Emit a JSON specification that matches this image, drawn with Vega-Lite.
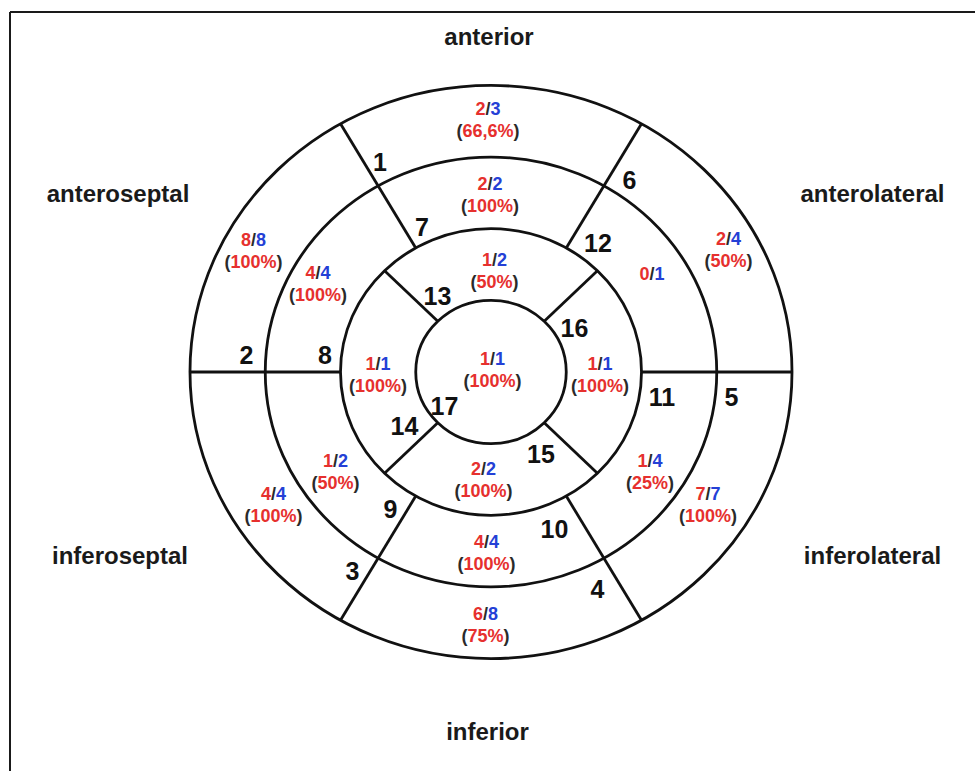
{
  "$schema": "https://vega.github.io/schema/vega-lite/v6.json",
  "width": 975,
  "height": 771,
  "autosize": "none",
  "padding": 0,
  "background": "white",
  "config": {"view": {"stroke": null}},
  "datasets": {
    "rings": [
      {"x": 0, "y": 0, "r": 75.25},
      {"x": 0, "y": 0, "r": 150.5},
      {"x": 0, "y": 0, "r": 225.75},
      {"x": 0, "y": 0, "r": 301}
    ],
    "dividers": [
      {"x": 150.5, "y": 0, "x2": 301, "y2": 0},
      {"x": 75.25, "y": 130.34, "x2": 150.5, "y2": 260.67},
      {"x": -75.25, "y": 130.34, "x2": -150.5, "y2": 260.67},
      {"x": -150.5, "y": 0, "x2": -301, "y2": 0},
      {"x": -75.25, "y": -130.34, "x2": -150.5, "y2": -260.67},
      {"x": 75.25, "y": -130.34, "x2": 150.5, "y2": -260.67},
      {"x": 53.21, "y": 53.21, "x2": 106.42, "y2": 106.42},
      {"x": -53.21, "y": 53.21, "x2": -106.42, "y2": 106.42},
      {"x": -53.21, "y": -53.21, "x2": -106.42, "y2": -106.42},
      {"x": 53.21, "y": -53.21, "x2": 106.42, "y2": -106.42}
    ],
    "frame": [
      {"x": -481, "y": 378.2, "x2": -481, "y2": -419.12},
      {"x": -481, "y": 378.2, "x2": 484, "y2": 378.2}
    ],
    "walls": [
      {"name": "anterior", "x": -2, "y": 343.5},
      {"name": "anteroseptal", "x": -373, "y": 178.6},
      {"name": "anterolateral", "x": 381.5, "y": 178.6},
      {"name": "inferoseptal", "x": -371, "y": -201.7},
      {"name": "inferolateral", "x": 381.5, "y": -201.7},
      {"name": "inferior", "x": -3.5, "y": -386.6}
    ],
    "numbers": [
      {"seg": "1", "x": -111, "y": 211.1},
      {"seg": "2", "x": -244.5, "y": 8.4},
      {"seg": "3", "x": -138.5, "y": -218.5},
      {"seg": "4", "x": 106.5, "y": -237.4},
      {"seg": "5", "x": 240.5, "y": -35.7},
      {"seg": "6", "x": 138.5, "y": 192.2},
      {"seg": "7", "x": -69, "y": 142.9},
      {"seg": "8", "x": -166, "y": 8.4},
      {"seg": "9", "x": -100.5, "y": -153.4},
      {"seg": "10", "x": 63.5, "y": -174.4},
      {"seg": "11", "x": 171, "y": -35.7},
      {"seg": "12", "x": 107, "y": 126.1},
      {"seg": "13", "x": -53.5, "y": 70.4},
      {"seg": "14", "x": -86.5, "y": -66.2},
      {"seg": "15", "x": 50, "y": -95.6},
      {"seg": "16", "x": 83.5, "y": 36.8},
      {"seg": "17", "x": -46.5, "y": -45.2}
    ],
    "segments": [
      {"seg": 1, "num": "2", "den": "3", "pct": "66,6%", "x": -3, "y": 270.0},
      {"seg": 2, "num": "8", "den": "8", "pct": "100%", "x": -237.5, "y": 132.4},
      {"seg": 3, "num": "4", "den": "4", "pct": "100%", "x": -217.5, "y": -134.5},
      {"seg": 4, "num": "6", "den": "8", "pct": "75%", "x": -5.5, "y": -260.5},
      {"seg": 5, "num": "7", "den": "7", "pct": "100%", "x": 217, "y": -134.5},
      {"seg": 6, "num": "2", "den": "4", "pct": "50%", "x": 237.5, "y": 133.4},
      {"seg": 7, "num": "2", "den": "2", "pct": "100%", "x": -1, "y": 191.2},
      {"seg": 8, "num": "4", "den": "4", "pct": "100%", "x": -173, "y": 97.7},
      {"seg": 9, "num": "1", "den": "2", "pct": "50%", "x": -155.5, "y": -99.8},
      {"seg": 10, "num": "4", "den": "4", "pct": "100%", "x": -4.5, "y": -184.9},
      {"seg": 11, "num": "1", "den": "4", "pct": "25%", "x": 159, "y": -99.8},
      {"seg": 12, "num": "0", "den": "1", "x": 161, "y": 96.6},
      {"seg": 13, "num": "1", "den": "2", "pct": "50%", "x": 3.5, "y": 111.3},
      {"seg": 14, "num": "1", "den": "1", "pct": "100%", "x": -113, "y": 2.6},
      {"seg": 15, "num": "2", "den": "2", "pct": "100%", "x": -7.5, "y": -108.2},
      {"seg": 16, "num": "1", "den": "1", "pct": "100%", "x": 109, "y": 1.6},
      {"seg": 17, "num": "1", "den": "1", "pct": "100%", "x": 1.5, "y": 7.4}
    ]
  },
  "encoding": {
    "x": {"field": "x", "type": "quantitative", "axis": null, "scale": {"domain": [-491, 484], "nice": false, "zero": false}},
    "y": {"field": "y", "type": "quantitative", "axis": null, "scale": {"domain": [-419.12, 390.76], "nice": false, "zero": false}}
  },
  "layer": [
    {
      "data": {"name": "frame"},
      "mark": {"type": "rule", "color": "#1a1a1a", "strokeWidth": 2},
      "encoding": {"x2": {"field": "x2"}, "y2": {"field": "y2"}}
    },
    {
      "data": {"name": "rings"},
      "mark": {"type": "point", "shape": "M-1,0A1,0.952,0,1,0,1,0A1,0.952,0,1,0,-1,0Z", "filled": false, "color": "#111111", "strokeWidth": 2.8, "opacity": 1},
      "encoding": {
        "size": {"field": "r", "type": "quantitative", "legend": null, "scale": {"type": "pow", "exponent": 2, "domain": [0, 301], "range": [0, 362404]}}
      }
    },
    {
      "data": {"name": "dividers"},
      "mark": {"type": "rule", "color": "#111111", "strokeWidth": 2.8},
      "encoding": {"x2": {"field": "x2"}, "y2": {"field": "y2"}}
    },
    {
      "data": {"name": "walls"},
      "mark": {"type": "text", "font": "Liberation Sans", "fontWeight": "bold", "fontSize": 24, "color": "#1a1a1a", "align": "center", "baseline": "alphabetic"},
      "encoding": {"text": {"field": "name", "type": "nominal"}}
    },
    {
      "data": {"name": "numbers"},
      "mark": {"type": "text", "font": "Liberation Sans", "fontWeight": "bold", "fontSize": 25, "color": "#111111", "align": "center", "baseline": "alphabetic"},
      "encoding": {"text": {"field": "seg", "type": "nominal"}}
    },
    {
      "data": {"name": "segments"},
      "mark": {"type": "text", "font": "Liberation Sans", "fontWeight": "bold", "fontSize": 18, "color": "#e6302e", "align": "right", "dx": -2.5, "baseline": "alphabetic"},
      "encoding": {"text": {"field": "num", "type": "nominal"}}
    },
    {
      "data": {"name": "segments"},
      "mark": {"type": "text", "font": "Liberation Sans", "fontWeight": "bold", "fontSize": 18, "color": "#2a2a2a", "align": "center", "baseline": "alphabetic", "text": "/"}
    },
    {
      "data": {"name": "segments"},
      "mark": {"type": "text", "font": "Liberation Sans", "fontWeight": "bold", "fontSize": 18, "color": "#2440d6", "align": "left", "dx": 2.5, "baseline": "alphabetic"},
      "encoding": {"text": {"field": "den", "type": "nominal"}}
    },
    {
      "data": {"name": "segments"},
      "transform": [{"filter": "isValid(datum.pct)"}],
      "mark": {"type": "text", "font": "Liberation Sans", "fontWeight": "bold", "fontSize": 18, "color": "#e6302e", "align": "center", "dy": 22, "baseline": "alphabetic"},
      "encoding": {"text": {"field": "pct", "type": "nominal"}}
    },
    {
      "data": {"name": "segments"},
      "transform": [{"filter": "datum.pct == '100%'"}],
      "mark": {"type": "text", "font": "Liberation Sans", "fontWeight": "bold", "fontSize": 18, "color": "#2a2a2a", "align": "right", "dx": -23, "dy": 22, "baseline": "alphabetic", "text": "("}
    },
    {
      "data": {"name": "segments"},
      "transform": [{"filter": "datum.pct == '100%'"}],
      "mark": {"type": "text", "font": "Liberation Sans", "fontWeight": "bold", "fontSize": 18, "color": "#2a2a2a", "align": "left", "dx": 23, "dy": 22, "baseline": "alphabetic", "text": ")"}
    },
    {
      "data": {"name": "segments"},
      "transform": [{"filter": "isValid(datum.pct) && length(datum.pct) == 3"}],
      "mark": {"type": "text", "font": "Liberation Sans", "fontWeight": "bold", "fontSize": 18, "color": "#2a2a2a", "align": "right", "dx": -18, "dy": 22, "baseline": "alphabetic", "text": "("}
    },
    {
      "data": {"name": "segments"},
      "transform": [{"filter": "isValid(datum.pct) && length(datum.pct) == 3"}],
      "mark": {"type": "text", "font": "Liberation Sans", "fontWeight": "bold", "fontSize": 18, "color": "#2a2a2a", "align": "left", "dx": 18, "dy": 22, "baseline": "alphabetic", "text": ")"}
    },
    {
      "data": {"name": "segments"},
      "transform": [{"filter": "datum.pct == '66,6%'"}],
      "mark": {"type": "text", "font": "Liberation Sans", "fontWeight": "bold", "fontSize": 18, "color": "#2a2a2a", "align": "right", "dx": -25.5, "dy": 22, "baseline": "alphabetic", "text": "("}
    },
    {
      "data": {"name": "segments"},
      "transform": [{"filter": "datum.pct == '66,6%'"}],
      "mark": {"type": "text", "font": "Liberation Sans", "fontWeight": "bold", "fontSize": 18, "color": "#2a2a2a", "align": "left", "dx": 25.5, "dy": 22, "baseline": "alphabetic", "text": ")"}
    }
  ]
}
